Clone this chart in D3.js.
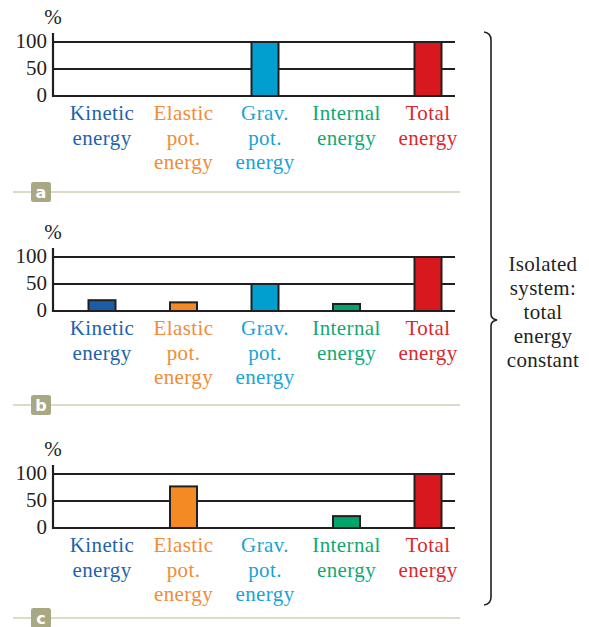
<!DOCTYPE html>
<html><head><meta charset="utf-8">
<script src="https://cdn.jsdelivr.net/npm/d3@7"></script>
<style>body{margin:0;background:#fff}svg{display:block}</style>
</head><body>
<script>
const categories = ["Kinetic energy","Elastic pot. energy","Grav. pot. energy","Internal energy","Total energy"];
const categoryLines = [["Kinetic","energy"],["Elastic","pot.","energy"],["Grav.","pot.","energy"],["Internal","energy"],["Total","energy"]];
const panelNames = ["a","b","c"];
const valuesA = [0,0,100,0,100];
const valuesB = [20,16,50,13,100];
const valuesC = [0,77,0,22,100];
const tickValues = [0,50,100];
const braceText = ["Isolated","system:","total","energy","constant"];
const barColors = ["#1b5ea6","#f38a24","#009fd0","#00a56b","#d8181f"];
const textColors = ["#1e63ad","#f28c35","#1aa3d6","#12a873","#dc2730"];

(function(){
const W=589,H=627;
const svg=d3.select("body").append("svg").attr("width",W).attr("height",H);
const serif="Liberation Serif, serif";

const zeroYs=[96,311,528];
const badgeYs=[192,405,618];
const allValues=[valuesA,valuesB,valuesC];
const x=d3.scalePoint().domain(categories).range([102,428]);
const barW=27;

allValues.forEach((vals,pi)=>{
  const z=zeroYs[pi];
  const y=d3.scaleLinear().domain([0,100]).range([z,z-54]);
  const g=svg.append("g");
  g.selectAll("line.grid").data(tickValues).join("line")
    .attr("x1",53).attr("x2",455).attr("y1",d=>y(d)).attr("y2",d=>y(d))
    .attr("stroke","#231f20").attr("stroke-width",2.2);
  g.append("line").attr("x1",53).attr("x2",53).attr("y1",z-63).attr("y2",z+1)
    .attr("stroke","#231f20").attr("stroke-width",2.2);
  g.selectAll("text.tick").data(tickValues).join("text")
    .attr("x",47).attr("y",d=>y(d)+6).attr("text-anchor","end")
    .attr("font-family",serif).attr("font-size",21).attr("fill","#231f20")
    .text(d=>d);
  g.append("text").attr("x",53).attr("y",z-72).attr("text-anchor","middle")
    .attr("font-family",serif).attr("font-size",21).attr("fill","#231f20").text("%");
  g.selectAll("rect.bar").data(vals.map((v,i)=>({v,i})).filter(d=>d.v>0)).join("rect")
    .attr("x",d=>x(categories[d.i])-barW/2).attr("width",barW)
    .attr("y",d=>y(d.v)).attr("height",d=>y(0)-y(d.v))
    .attr("fill",d=>barColors[d.i]).attr("stroke","#231f20").attr("stroke-width",2);
  categories.forEach((c,i)=>{
    const t=g.append("text").attr("text-anchor","middle").attr("font-family",serif)
      .attr("font-size",21).attr("letter-spacing",0.4).attr("fill",textColors[i]);
    categoryLines[i].forEach((ln,k)=>{
      t.append("tspan").attr("x",x(c)).attr("y",z+24+k*24.5).text(ln);
    });
  });
  const by=badgeYs[pi];
  g.append("line").attr("x1",13).attr("x2",460).attr("y1",by).attr("y2",by)
    .attr("stroke","#dcdcc6").attr("stroke-width",2.2);
  g.append("rect").attr("x",31).attr("y",by-10).attr("width",20).attr("height",20).attr("rx",2.5)
    .attr("fill","#a9a884");
  g.append("text").attr("x",41).attr("y",by+6).attr("text-anchor","middle")
    .attr("font-family","DejaVu Sans, sans-serif").attr("font-weight","bold").attr("font-size",16)
    .attr("fill","#fff").text(panelNames[pi]);
});

const bx=491, bTop=32, bBot=605, bMid=320;
const p=d3.path();
p.moveTo(484,bTop);
p.quadraticCurveTo(bx,bTop+1,bx,bTop+8);
p.lineTo(bx,bMid-6);
p.quadraticCurveTo(bx,bMid-1,497,bMid);
p.quadraticCurveTo(bx,bMid+1,bx,bMid+6);
p.lineTo(bx,bBot-8);
p.quadraticCurveTo(bx,bBot-1,484,bBot);
svg.append("path").attr("d",p.toString()).attr("fill","none").attr("stroke","#231f20").attr("stroke-width",1.6);

const bt=svg.append("text").attr("text-anchor","middle").attr("font-family",serif)
  .attr("font-size",21).attr("letter-spacing",0.3).attr("fill","#231f20");
braceText.forEach((ln,k)=>bt.append("tspan").attr("x",543).attr("y",271+k*24).text(ln));
})();
</script>
</body></html>
